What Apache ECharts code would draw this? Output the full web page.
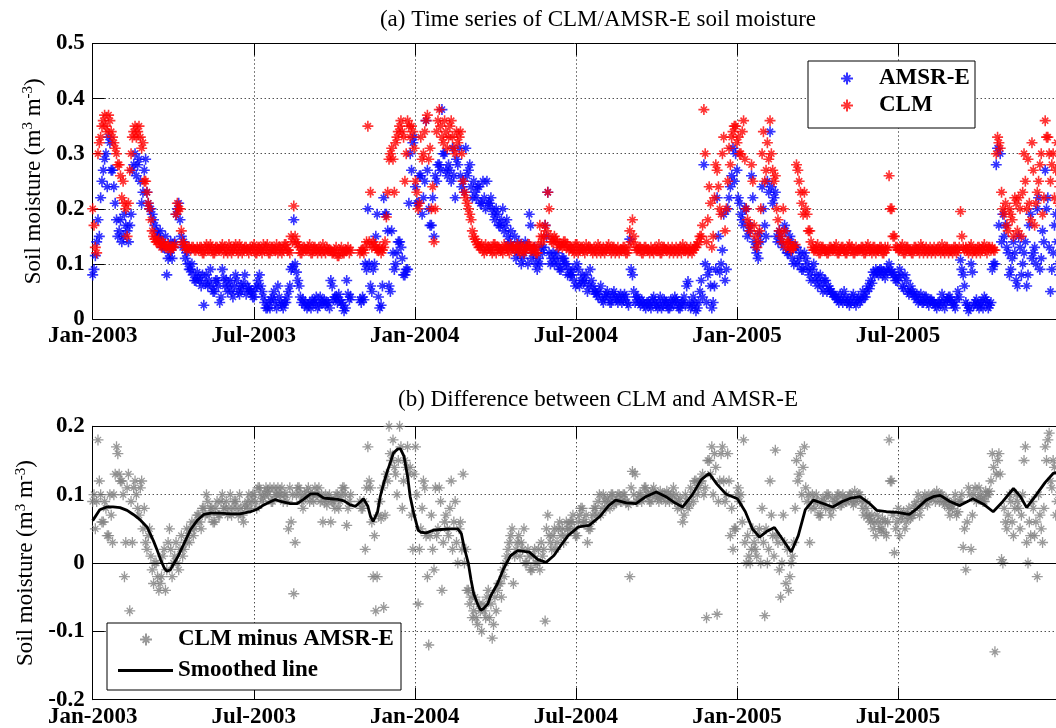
<!DOCTYPE html>
<html><head><meta charset="utf-8">
<script src="https://cdn.jsdelivr.net/npm/echarts/dist/echarts.min.js"></script>
<style>html,body{margin:0;padding:0;background:#fff}#c{width:1056px;height:728px}</style>
</head><body><div id="c"></div>
<script>
// ---- data (day offset from 1 Jan 2003; main samples every dayStep days, "Mid" samples offset by midOffset) ----
const dayStep = 3;
const midOffset = 1.5;
const halfYear = 182.625;
const xMax = 1152;
const tickLabels = ['Jan-2003','Jul-2003','Jan-2004','Jul-2004','Jan-2005','Jul-2005'];
const titleA = '(a) Time series of CLM/AMSR-E soil moisture';
const titleB = '(b) Difference between CLM and AMSR-E';
const legendA = ['AMSR-E','CLM'];
const legendB = ['CLM minus AMSR-E','Smoothed line'];

const amsrVals = [
.08,.115,.18,.22,.27,.30,.33,.27,.24,.18,
.16,.14,.19,.16,.17,.27,.30,.28,.25,.23,
.29,.21,.20,.18,.16,.15,.14,.13,.08,.12,
.11,.14,.20,.18,.13,.11,.10,.09,.08,.07,
.075,.06,.025,.08,.07,.06,.05,.07,.03,.09,
.06,.05,.07,.04,.08,.05,.06,.065,.045,.055,
.05,.04,.06,.08,.05,.03,.02,.02,.04,.03,
.06,.03,.02,.03,.05,.09,.18,.085,.06,.03,
.025,.02,.03,.035,.03,.02,.04,.03,.025,.03,
.07,.035,.04,.045,.03,.015,.07,.035,null,null,
null,.035,.04,.10,.20,.06,.09,.15,.04,.025,
.22,.19,.06,.16,.09,.12,.14,.11,.08,.09,
.30,.32,.24,.21,.26,.22,.36,.20,.17,.15,
.25,.28,.38,.30,.26,.27,.31,.22,.28,.26,
.25,.31,.27,.24,.25,.22,.24,.21,.22,.25,
.21,.20,.18,.19,.17,.20,.17,.15,.16,.13,
.11,.14,.10,.12,.13,.19,.11,.13,.09,.10,
.12,.17,.23,.10,.12,.11,.10,.09,.11,.10,
.09,.08,.07,.10,.06,.08,.07,.05,.09,.06,
.05,.04,.06,.03,.045,.04,.03,.05,.035,.04,
.03,.045,.03,.145,.08,.03,.04,.025,.03,.02,
.03,.02,.04,.025,.03,.02,.035,.03,.02,.03,
.04,.03,.02,.03,.025,.068,.02,.04,.015,.03,
.07,.28,.03,.09,.02,.06,.22,.085,.125,.07,
.20,.24,.31,.30,.22,.19,.17,.20,.16,.26,
.14,.12,.155,.24,.17,.25,.34,.21,.23,.14,
.15,.13,.16,.12,.14,.10,.13,.11,.09,.12,
.10,.08,.09,.07,.06,.08,.05,.07,.06,.05,
.045,.04,.03,.035,.05,.03,.025,.04,.03,.035,
.03,.05,.04,.06,.07,.085,.09,.08,.09,.085,
.09,.10,.085,.08,.07,.09,.06,.08,.05,.06,
.05,.04,.03,.045,.03,.04,.025,.035,.03,.02,
.03,.045,.02,.035,.04,.03,.02,.05,.107,.08,
.03,.015,.10,.025,.035,.02,.03,.04,.03,.025,
.09,.10,.31,.30,.19,.17,.12,.09,.14,.07,
.15,.08,.12,.06,.17,.11,.13,.20,.09,.16,
.27,.22,.05,.12,.19,.10,.14,.16,.12,.15
];
const amsrMid = [
.09,.14,.15,.25,.29,.24,.32,.27,.21,.15,
.18,.15,.17,.14,.19,.28,.26,.29,.21,.27,
.23,.20,.19,.17,.15,.16,.13,.15,.11,.14,
.13,.19,.21,.15,.14,.12,.09,.10,.07,.085,
.07,.08,.065,.06,.09,.05,.07,.06,.04,.075,
.07,.06,.05,.06,.07,.045,.055,.08,.06,.05,
.04,.055,.07,.06,.04,.02,.03,.035,.05,.02,
.04,.025,.03,.04,.06,.095,.10,.07,.04,.035,
.03,.025,.02,.03,.04,.025,.03,.035,.03,.02,
.06,.04,.03,.035,.025,.02,.045,.04,null,null,
null,.03,.035,.09,.10,.05,.10,.19,.02,.06,
.19,.16,.05,.12,.10,.14,.13,.08,.09,.21,
.27,.33,.21,.26,.19,.25,.27,.17,.22,.26,
.28,.27,.30,.27,.28,.25,.26,.29,.31,.24,
.23,.26,.28,.22,.23,.24,.21,.25,.20,.21,
.22,.19,.20,.17,.18,.16,.18,.14,.13,.15,
.12,.13,.11,.14,.10,.17,.12,.10,.11,.13,
.13,.15,.12,.11,.10,.12,.09,.11,.10,.08,
.08,.09,.06,.09,.07,.065,.08,.06,.07,.05,
.045,.05,.035,.04,.05,.03,.045,.04,.03,.045,
.035,.04,.025,.09,.05,.04,.03,.035,.025,.03,
.025,.035,.03,.02,.04,.025,.03,.02,.035,.025,
.035,.02,.03,.04,.06,.03,.025,.03,.02,.05,
.04,.10,.08,.06,.03,.09,.15,.10,.19,.09,
.22,.26,.25,.27,.21,.18,.20,.15,.17,.22,
.13,.11,.14,.20,.15,.23,.24,.22,.15,.16,
.14,.17,.12,.15,.11,.13,.10,.12,.09,.11,
.09,.07,.10,.08,.07,.06,.07,.05,.055,.045,
.04,.035,.045,.03,.04,.035,.03,.045,.025,.04,
.035,.04,.05,.055,.065,.08,.085,.09,.08,.075,
.085,.09,.08,.07,.075,.08,.055,.07,.045,.05,
.04,.045,.035,.03,.04,.03,.035,.03,.025,.03,
.025,.035,.03,.04,.03,.025,.035,.04,.09,.06,
.025,.02,.085,.03,.025,.03,.02,.035,.02,.03,
.10,.28,.17,.14,.15,.13,.08,.11,.12,.06,
.13,.10,.14,.08,.19,.12,.10,.22,.11,.14,
.20,.13,.09,.17,.14,.08,.13,.17,.14,.12
];

const clmVals = [
.20,.13,.30,.33,.36,.35,.37,.34,.32,.30,
.28,.22,.21,.15,.27,.33,.35,.34,.33,.32,
.25,.21,.18,.15,.14,.145,.13,.135,.13,.13,
.13,.135,.21,.20,.14,.13,.13,.125,.13,.125,
.125,.13,.12,.135,.125,.13,.12,.13,.125,.135,
.13,.12,.13,.125,.135,.12,.13,.125,.13,.12,
.125,.135,.12,.13,.12,.125,.135,.12,.13,.125,
.12,.13,.125,.135,.125,.15,.205,.14,.13,.12,
.13,.125,.135,.12,.13,.12,.125,.135,.12,.125,
.125,.12,.13,.115,.13,.12,.125,.12,null,null,
null,.12,.125,.13,.35,.23,.14,.13,.125,.12,
.13,.185,.29,.31,.23,.33,.35,.34,.25,.36,
.33,.34,.25,.20,.33,.30,.36,.29,.20,.14,
.34,.38,.33,.36,.31,.35,.33,.30,.32,.34,
.25,.22,.20,.18,.15,.14,.13,.135,.12,.125,
.13,.12,.135,.13,.125,.12,.13,.125,.135,.13,
.13,.125,.135,.12,.13,.135,.125,.13,.12,.17,
.14,.17,.23,.15,.14,.145,.13,.135,.14,.13,
.125,.13,.12,.135,.125,.13,.12,.125,.13,.12,
.125,.135,.12,.13,.125,.135,.12,.13,.125,.12,
.125,.13,.12,.16,.18,.135,.125,.13,.12,.13,
.125,.13,.12,.125,.135,.12,.13,.125,.12,.13,
.125,.12,.13,.135,.125,.12,.13,.125,.13,.14,
.15,.38,.14,.24,.13,.22,.27,.20,.30,.16,
.25,.28,.34,.35,.33,.30,.36,.20,.17,.28,
.17,.13,.16,.30,.25,.32,.36,.27,.26,.18,
.15,.20,.13,.14,.125,.13,.28,.25,.21,.23,
.19,.16,.13,.125,.135,.12,.13,.125,.12,.13,
.125,.135,.12,.13,.125,.12,.135,.13,.12,.125,
.125,.13,.12,.135,.125,.13,.12,.125,.13,.12,
.125,.26,.20,.15,.13,.125,.135,.12,.13,.125,
.12,.13,.125,.135,.12,.13,.125,.12,.13,.125,
.125,.135,.12,.13,.125,.12,.13,.125,.195,.13,
.13,.12,.135,.125,.12,.13,.125,.135,.12,.13,
.13,.125,.33,.31,.20,.21,.16,.19,.15,.21,
.22,.15,.30,.20,.21,.32,.17,.23,.28,.19,
.36,.33,.25,.30,.27,.21,.25,.29,.31,.26
];
const clmMid = [
.17,.12,.32,.35,.37,.34,.36,.33,.31,.28,
.26,.25,.20,.21,.30,.34,.33,.35,.31,.25,
.23,.20,.16,.145,.14,.135,.14,.13,.135,.125,
.13,.19,.20,.16,.135,.125,.13,.13,.125,.13,
.13,.12,.13,.125,.135,.12,.13,.125,.13,.12,
.125,.135,.12,.13,.125,.135,.12,.13,.125,.13,
.13,.12,.13,.125,.135,.13,.12,.13,.125,.135,
.13,.12,.135,.125,.12,.14,.15,.135,.12,.13,
.125,.13,.12,.13,.125,.13,.12,.125,.13,.125,
.12,.125,.115,.125,.12,.125,.13,.125,null,null,
null,.125,.12,.14,.14,.13,.135,.125,.13,.125,
.14,.23,.30,.29,.32,.34,.36,.33,.30,.35,
.35,.31,.23,.21,.29,.34,.37,.31,.24,.20,
.36,.35,.32,.34,.33,.36,.31,.34,.33,.30,
.23,.21,.19,.16,.145,.135,.13,.125,.135,.13,
.125,.135,.12,.13,.125,.135,.13,.12,.13,.125,
.135,.12,.13,.125,.135,.125,.13,.12,.135,.15,
.15,.16,.20,.14,.15,.14,.135,.13,.14,.135,
.13,.125,.135,.12,.13,.125,.135,.13,.125,.13,
.12,.13,.125,.12,.13,.125,.13,.12,.13,.125,
.13,.12,.13,.14,.15,.125,.13,.12,.13,.125,
.12,.125,.13,.125,.12,.13,.125,.13,.125,.12,
.13,.125,.12,.125,.13,.125,.12,.13,.135,.15,
.17,.30,.18,.21,.15,.28,.24,.19,.33,.20,
.31,.33,.35,.32,.30,.34,.29,.18,.16,.25,
.15,.14,.20,.34,.27,.29,.30,.25,.20,.16,
.14,.16,.14,.13,.13,.135,.27,.23,.19,.20,
.16,.14,.125,.13,.12,.13,.125,.12,.13,.125,
.13,.12,.125,.13,.12,.13,.125,.12,.13,.125,
.13,.12,.13,.125,.12,.13,.125,.13,.12,.13,
.13,.20,.15,.13,.125,.13,.12,.13,.125,.12,
.13,.125,.12,.13,.125,.12,.13,.125,.12,.13,
.12,.125,.13,.12,.125,.13,.12,.13,.15,.125,
.125,.13,.12,.125,.13,.12,.13,.125,.13,.125,
.125,.30,.32,.23,.19,.17,.20,.18,.22,.16,
.20,.23,.25,.29,.18,.27,.21,.25,.30,.22,
.33,.30,.28,.22,.32,.24,.27,.33,.28,.30
];

const diffVals = [
.09,.05,.18,.10,.06,.08,.04,.07,.10,.17,
.13,.12,-.02,.11,-.07,.03,.12,.08,.11,.05,
.03,.04,.01,-.03,.00,-.04,-.02,.02,-.01,.05,
-.02,.01,.00,.02,.01,.03,.04,.05,.04,.06,
.07,.05,.08,.10,.07,.08,.06,.09,.07,.10,
.08,.07,.10,.08,.09,.07,.08,.06,.08,.10,
.09,.10,.08,.11,.09,.10,.105,.11,.09,.10,
.11,.10,.09,.10,.05,.06,-.045,.10,.11,.09,
.10,.105,.09,.10,.11,.10,.09,.06,.10,.095,
.06,.09,.10,.08,.10,.11,.055,.09,null,null,
null,.09,.08,.02,.17,.11,-.02,-.07,.07,.065,
-.065,.13,.20,.15,.14,.10,.20,.08,.15,.17,
.14,.02,.17,-.06,.05,.12,.04,-.12,.07,-.01,
.04,.11,-.04,.06,.05,.08,.02,.09,.00,.06,
.13,.02,-.04,-.05,-.07,-.08,-.06,-.10,-.07,-.05,
-.08,-.11,-.05,-.04,-.03,-.01,.00,.02,.04,-.03,
.02,.04,.03,.05,.00,.01,-.01,.02,.00,-.01,
.01,-.085,.07,.03,.04,.02,.05,.04,.03,.06,
.05,.06,.05,.04,.07,.08,.06,.03,.05,.07,
.08,.09,.07,.10,.08,.09,.10,.085,.09,.10,
.09,.10,.09,-.02,.134,.13,.09,.10,.095,.11,
.10,.09,.11,.10,.09,.095,.10,.105,.09,.10,
.09,.08,.095,.06,.10,.08,.11,.09,.12,.11,
.12,.10,-.08,.15,.17,.16,-.075,.12,.17,.09,
.16,.04,.02,.05,.11,.10,.18,.00,.01,.02,
.03,.01,.05,.08,-.077,.00,.12,.04,.165,.03,
-.05,.07,-.03,-.04,.00,.03,.15,.13,.10,.17,
.09,.03,.10,.08,.09,.07,.095,.08,.10,.07,
.08,.09,.10,.085,.095,.09,.10,.09,.105,.095,
.10,.08,.09,.07,.06,.05,.04,.06,.05,.045,
.04,.18,.12,.015,.06,.04,.07,.05,.07,.065,
.07,.08,.10,.08,.095,.09,.10,.095,.10,.105,
.09,.10,.085,.09,.07,.08,.10,.075,.09,.023,
-.01,.11,.02,.10,.09,.11,.095,.09,.10,.105,
.16,-.13,.15,.13,.00,.06,.07,.09,.04,.10,
.08,.07,.15,.03,.06,.09,.04,-.02,.07,.03,
.17,.18,.12,.15,.07,.10,.13,.09,.16,.11
];
const diffMid = [
.10,.09,.12,.06,.09,.04,.10,.03,.13,.16,
.12,.10,.03,.13,.09,.11,.10,.07,.12,.08,
.02,.05,-.01,.00,-.02,-.03,.01,-.04,.03,.02,
.00,.03,-.01,.04,.02,.05,.03,.06,.05,.07,
.06,.08,.07,.09,.08,.06,.08,.07,.09,.08,
.09,.08,.07,.09,.08,.10,.07,.085,.09,.08,
.10,.09,.11,.10,.095,.11,.10,.09,.11,.10,
.10,.11,.10,.09,.11,.10,.03,.11,.10,.08,
.095,.11,.10,.09,.10,.11,.10,.09,.085,.10,
.09,.08,.10,.09,.11,.10,.08,.10,null,null,
null,.08,.09,.11,.12,.06,.04,-.02,.09,.11,
.07,.12,.16,.18,.13,.15,.17,.12,.14,.13,
.07,.13,.10,.02,.08,.11,-.02,.04,.02,.11,
.05,.09,.03,.07,.04,.12,.06,.03,.05,.02,
.00,-.04,-.06,-.08,-.05,-.09,-.07,-.06,-.08,-.04,
-.06,-.09,-.07,-.03,-.05,-.02,.01,.03,.05,.01,
.03,.01,.02,.00,.02,-.01,.01,.00,.02,.03,
.02,.05,.04,.02,.05,.03,.06,.05,.04,.05,
.06,.07,.04,.06,.08,.06,.07,.05,.06,.08,
.07,.10,.08,.09,.095,.08,.10,.09,.10,.09,
.10,.09,.085,.11,.10,.09,.10,.09,.11,.10,
.09,.105,.10,.095,.105,.10,.09,.10,.095,.11,
.10,.09,.08,.07,.09,.085,.10,.12,.10,.12,
.13,.11,.15,.13,.10,.14,.09,.16,.12,.10,
.12,.08,.05,.10,.09,.06,.03,.04,.00,.05,
.02,.04,.00,.03,.05,.02,.07,.01,.04,-.01,
.00,.03,.02,-.02,.01,.08,.12,.16,.14,.11,
.10,.08,.09,.10,.07,.085,.09,.10,.08,.095,
.09,.10,.085,.10,.09,.095,.10,.085,.09,.10,
.09,.07,.08,.065,.07,.06,.07,.05,.065,.06,
.06,.12,.07,.05,.08,.065,.075,.06,.08,.07,
.085,.09,.07,.09,.10,.085,.095,.10,.09,.10,
.10,.09,.095,.08,.085,.09,.07,.09,.10,.05,
.06,.10,.07,.11,.095,.10,.09,.105,.10,.12,
.14,.13,.16,.005,.08,.05,.10,.06,.08,.09,
.05,.10,.17,.00,.04,.08,.06,.10,.05,.08,
.15,.19,.11,.14,.09,.13,.10,.17,.12,.14
];

// smoothed line: [day offset, value]
const smoothLine = [
[0,0.062],[8,0.078],[16,0.082],[23,0.082],[31,0.081],[39,0.077],[46,0.071],[54,0.063],[62,0.052],[69,0.032],
[73,0.019],[77,0.005],[81,-0.007],[84,-0.012],[88,-0.010],[91,-0.003],[96,0.008],[103,0.027],[111,0.049],[119,0.063],
[126,0.071],[134,0.073],[145,0.073],[156,0.072],[167,0.072],[179,0.075],[187,0.079],[194,0.085],[202,0.090],[207,0.093],
[213,0.090],[224,0.087],[232,0.087],[239,0.093],[247,0.101],[255,0.101],[262,0.095],[270,0.094],[278,0.093],[285,0.091],
[292,0.085],[298,0.083],[304,0.090],[307,0.094],[312,0.083],[315,0.068],[318,0.061],[323,0.075],[326,0.097],[330,0.117],
[334,0.134],[338,0.149],[341,0.161],[346,0.167],[349,0.167],[353,0.156],[357,0.127],[360,0.097],[364,0.073],[369,0.048],
[372,0.045],[378,0.044],[387,0.048],[395,0.049],[406,0.050],[414,0.050],[418,0.043],[421,0.024],[426,-0.001],[429,-0.025],
[432,-0.045],[437,-0.062],[440,-0.069],[443,-0.067],[448,-0.060],[451,-0.049],[459,-0.030],[466,-0.008],[471,0.004],[474,0.011],
[482,0.018],[489,0.017],[495,0.016],[505,0.005],[514,0.001],[523,0.011],[531,0.026],[539,0.040],[551,0.053],[563,0.055],
[575,0.068],[585,0.084],[593,0.092],[605,0.088],[616,0.087],[627,0.097],[639,0.104],[650,0.097],[660,0.088],[669,0.082],
[680,0.100],[690,0.122],[699,0.131],[708,0.115],[718,0.101],[731,0.094],[740,0.075],[748,0.050],[756,0.038],[764,0.046],
[773,0.052],[782,0.035],[792,0.016],[800,0.040],[808,0.078],[817,0.092],[828,0.087],[839,0.082],[850,0.090],[860,0.095],
[870,0.097],[880,0.088],[889,0.077],[900,0.075],[912,0.074],[926,0.071],[935,0.080],[945,0.092],[953,0.097],[961,0.099],
[972,0.090],[983,0.084],[998,0.094],[1010,0.086],[1021,0.075],[1032,0.090],[1044,0.109],[1052,0.097],[1059,0.081],[1070,0.100],
[1080,0.118],[1089,0.131],[1100,0.135]
];

// ---- rendering ----
const SERIF = "'Liberation Serif','Times New Roman',serif";
const STAR = 'path://M5 0L5 10M0 5L10 5M2.2 2.2L7.8 7.8M2.2 7.8L7.8 2.2';
function toPoints(vals, offset) {
  const out = [];
  vals.forEach(function (v, i) { if (v !== null) out.push([offset + i * dayStep, v]); });
  return out;
}
function xLabel(v) {
  const k = Math.round(v / halfYear);
  return (Math.abs(v - k * halfYear) < 0.5 && k < tickLabels.length) ? tickLabels[k] : '';
}
const GL = 92.7, GW = 1016;
const grids = [
  {left: GL, top: 43.5, width: GW, height: 275.5, outerBoundsMode: 'none', containLabel: false},
  {left: GL, top: 426.3, width: GW, height: 273.4, outerBoundsMode: 'none', containLabel: false}
];
const tickFont = {fontFamily: SERIF, fontWeight: 'bold', fontSize: 23, color: '#000'};
const dotted = {show: true, lineStyle: {color: '#000', type: [1, 3], width: 1}};
function xAxes(g) {
  return [
    {type: 'value', gridIndex: g, position: 'bottom', min: 0, max: xMax, interval: halfYear,
     axisLine: {show: true, onZero: false, lineStyle: {color: '#000', width: 1}},
     axisTick: {show: true, inside: true, length: 12, lineStyle: {color: '#000'}},
     axisLabel: Object.assign({formatter: xLabel, margin: 6, showMinLabel: true, showMaxLabel: true, hideOverlap: false}, tickFont),
     splitLine: dotted},
    {type: 'value', gridIndex: g, position: 'top', min: 0, max: xMax, interval: halfYear,
     axisLine: {show: true, onZero: false, lineStyle: {color: '#000', width: 1}},
     axisTick: {show: true, inside: true, length: 12, lineStyle: {color: '#000'}},
     axisLabel: {show: false}, splitLine: {show: false}}
  ];
}
function yAxis(g, mn, mx) {
  return {type: 'value', gridIndex: g, min: mn, max: mx, interval: 0.1,
    axisLine: {show: true, onZero: false, lineStyle: {color: '#000', width: 1}},
    axisTick: {show: true, inside: true, length: 12, lineStyle: {color: '#000'}},
    axisLabel: Object.assign({margin: 8, showMinLabel: true, showMaxLabel: true,
      formatter: function (v) { return Math.abs(v) < 1e-9 ? '0' : v.toFixed(1); }}, tickFont),
    splitLine: dotted,
    name: '{n|Soil moisture (m}{s|3}{n| m}{s|-3}{n|)}',
    nameLocation: 'middle', nameGap: 45, nameRotate: 90,
    nameTextStyle: {rich: {
      n: {fontFamily: SERIF, fontSize: 23, color: '#000', lineHeight: 24, padding: [10, 0, 0, 0], verticalAlign: 'bottom'},
      s: {fontFamily: SERIF, fontSize: 15, color: '#000', lineHeight: 16, verticalAlign: 'top'}
    }}
  };
}
const legendText = {rich: {t: {fontFamily: SERIF, fontWeight: 'bold', fontSize: 23, color: '#000', lineHeight: 26, padding: [0, 0, 0, 21]}}};
const legendText2 = {rich: {t: {fontFamily: SERIF, fontWeight: 'bold', fontSize: 23, color: '#000', lineHeight: 26}}};

const option = {
  animation: false,
  backgroundColor: '#fff',
  grid: grids,
  xAxis: xAxes(0).concat(xAxes(1)),
  yAxis: [yAxis(0, 0, 0.5), yAxis(1, -0.2, 0.2)],
  legend: [
    {data: legendA.map(function (n) { return {name: n, icon: STAR}; }), orient: 'vertical', left: 840, top: 67,
     itemWidth: 12, itemHeight: 12, itemGap: 4, padding: 0, selectedMode: false,
     formatter: function (n) { return '{t|' + n + '}'; }, textStyle: legendText},
    {data: [{name: legendB[0], icon: STAR}], left: 139, top: 628, itemWidth: 12, itemHeight: 12, padding: 0, selectedMode: false,
     formatter: function (n) { return '{t|' + n + '}'; }, textStyle: legendText},
    {data: [{name: legendB[1], icon: 'rect'}], left: 118, top: 659, itemWidth: 55, itemHeight: 3, padding: 0, selectedMode: false,
     formatter: function (n) { return '{t|' + n + '}'; }, textStyle: legendText2}
  ],
  graphic: [
    {type: 'rect', shape: {x: 808, y: 61, width: 167, height: 67}, style: {fill: '#fff', stroke: '#000', lineWidth: 1}, z: 3, silent: true},
    {type: 'rect', shape: {x: 107, y: 623, width: 294, height: 67}, style: {fill: '#fff', stroke: '#000', lineWidth: 1}, z: 3, silent: true},
    {type: 'text', x: 598, y: 20, style: {text: titleA, font: '23px ' + SERIF, fill: '#000', align: 'center', verticalAlign: 'middle'}, z: 5, silent: true},
    {type: 'text', x: 598, y: 400, style: {text: titleB, font: '23px ' + SERIF, fill: '#000', align: 'center', verticalAlign: 'middle'}, z: 5, silent: true}
  ],
  series: [
    {name: legendA[0], type: 'scatter', xAxisIndex: 0, yAxisIndex: 0,
     data: toPoints(amsrVals, 0).concat(toPoints(amsrMid, midOffset)),
     symbol: STAR, symbolSize: 11, silent: true,
     itemStyle: {color: '#0000ff', borderColor: '#0000ff', borderWidth: 1.6}},
    {name: legendA[1], type: 'scatter', xAxisIndex: 0, yAxisIndex: 0,
     data: toPoints(clmVals, 0).concat(toPoints(clmMid, midOffset)),
     symbol: STAR, symbolSize: 11, silent: true,
     itemStyle: {color: '#ff0000', borderColor: '#ff0000', borderWidth: 1.6}},
    {name: legendB[0], type: 'scatter', xAxisIndex: 2, yAxisIndex: 1,
     data: toPoints(diffVals, 0).concat(toPoints(diffMid, midOffset)),
     symbol: STAR, symbolSize: 11, silent: true,
     itemStyle: {color: '#808080', borderColor: '#808080', borderWidth: 1.3},
     markLine: {silent: true, symbol: ['none', 'none'], label: {show: false},
       lineStyle: {color: '#000', type: 'solid', width: 1}, data: [{yAxis: 0}]}},
    {name: legendB[1], type: 'line', xAxisIndex: 2, yAxisIndex: 1, data: smoothLine,
     symbol: 'none', showSymbol: false, silent: true, z: 3,
     lineStyle: {color: '#000', width: 2.8}, itemStyle: {color: '#000'}}
  ]
};
const chart = echarts.init(document.getElementById('c'), null, {renderer: 'canvas'});
chart.setOption(option);
</script>
</body></html>
